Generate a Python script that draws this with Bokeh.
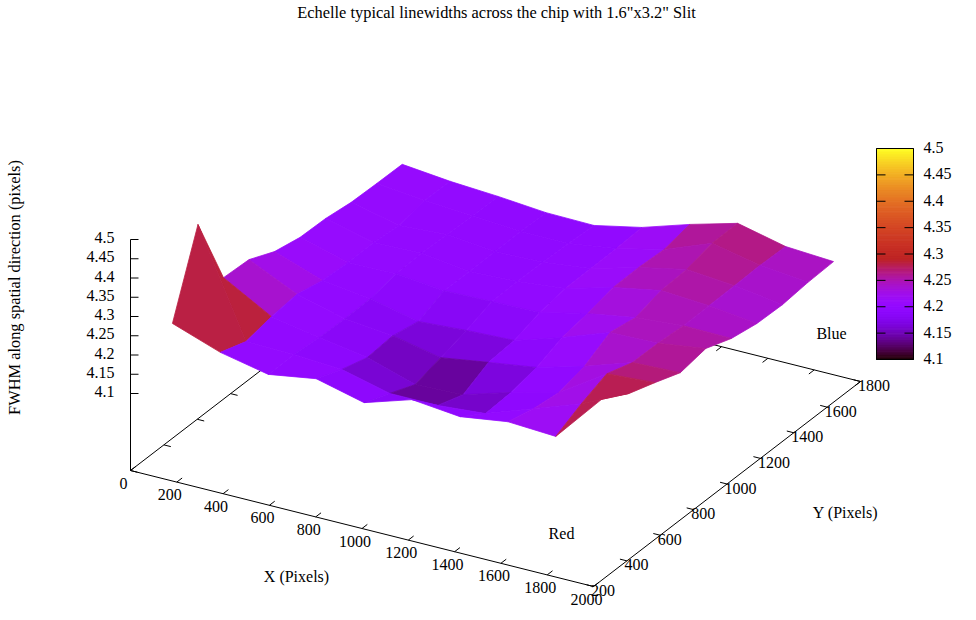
import math
import numpy as np
from bokeh.plotting import figure
from bokeh.models import Range1d
from bokeh.core.properties import value
from bokeh.embed import file_html
from bokeh.resources import INLINE

TITLE = 'Echelle typical linewidths across the chip with 1.6"x3.2" Slit'
X_LABEL = "X (Pixels)"
Y_LABEL = "Y (Pixels)"
Z_LABEL = "FWHM along spatial direction (pixels)"
x_ticks = [0, 200, 400, 600, 800, 1000, 1200, 1400, 1600, 1800, 2000]
y_ticks = [200, 400, 600, 800, 1000, 1200, 1400, 1600, 1800]
z_ticks = [4.1, 4.15, 4.2, 4.25, 4.3, 4.35, 4.4, 4.45, 4.5]
z_tick_text = ["4.1", "4.15", "4.2", "4.25", "4.3", "4.35", "4.4", "4.45", "4.5"]

# sampled positions on the chip
x_nodes = [99, 306, 513, 720, 927, 1134, 1341, 1548, 1755, 1962]
y_nodes = [314, 467, 620, 773, 926, 1079, 1232, 1385, 1538, 1691]

# FWHM: one list per x node, one value per y node
z_x0 = [4.259, 4.465, 4.276, 4.272, 4.242, 4.228, 4.226, 4.217, 4.215, 4.214]
z_x1 = [4.215, 4.192, 4.206, 4.213, 4.198, 4.194, 4.195, 4.188, 4.202, 4.201]
z_x2 = [4.189, 4.190, 4.183, 4.181, 4.182, 4.196, 4.198, 4.196, 4.194, 4.193]
z_x3 = [4.209, 4.182, 4.162, 4.168, 4.154, 4.183, 4.182, 4.183, 4.184, 4.182]
z_x4 = [4.178, 4.151, 4.123, 4.142, 4.162, 4.186, 4.187, 4.186, 4.184, 4.180]
z_x5 = [4.217, 4.151, 4.128, 4.161, 4.167, 4.189, 4.200, 4.201, 4.202, 4.206]
z_x6 = [4.204, 4.161, 4.165, 4.179, 4.206, 4.217, 4.234, 4.235, 4.231, 4.245]
z_x7 = [4.222, 4.205, 4.196, 4.213, 4.250, 4.238, 4.257, 4.261, 4.278, 4.279]
z_x8 = [4.215, 4.249, 4.276, 4.254, 4.253, 4.248, 4.249, 4.250, 4.252, 4.250]
z_x9 = [4.347, 4.307, 4.284, 4.259, 4.271, 4.246, 4.234, 4.232, 4.239, 4.242]
z_grid = [z_x0, z_x1, z_x2, z_x3, z_x4, z_x5, z_x6, z_x7, z_x8, z_x9]

XMIN, XMAX, YMIN, YMAX, ZBASE, CBMIN, CBMAX = 0, 2000, 200, 1800, 3.9, 4.1, 4.5

# shade response of the surface: the reference's mid purples sit close together
shade_in = [4.10, 4.13, 4.15, 4.17, 4.185, 4.21, 4.23, 4.25, 4.50]
shade_out = [4.10, 4.132, 4.157, 4.182, 4.197, 4.206, 4.225, 4.25, 4.50]


def proj(x, y, z=ZBASE):
    u = (x - XMIN) / (XMAX - XMIN)
    v = (y - YMIN) / (YMAX - YMIN)
    return 130 + 463 * u + 267 * v, 470 + 116 * u - 205 * v - 385 * (z - ZBASE)


def palette(z):
    g = min(1.0, max(0.0, (z - CBMIN) / (CBMAX - CBMIN)))
    r = g ** 0.40
    gg = g ** 3 + 0.03 * math.sin(math.pi * g)
    b = math.sin(2 * math.pi * g)
    if g > 0.45:
        b = max(0.14, b)
    return "#%02x%02x%02x" % (round(min(r, 1) * 255), round(min(gg, 1) * 255), round(max(b, 0) * 255))


p = figure(width=960, height=612, output_backend="svg", toolbar_location=None,
           x_range=Range1d(0, 960), y_range=Range1d(612, 0),
           x_axis_location=None, y_axis_location=None, min_border=0)
p.grid.visible = False
p.outline_line_color = None
p.background_fill_color = "white"

# base box and ticks (behind the surface)
corners = [(XMIN, YMIN), (XMAX, YMIN), (XMAX, YMAX), (XMIN, YMAX), (XMIN, YMIN)]
bx = [proj(*c)[0] for c in corners]
by = [proj(*c)[1] for c in corners]
p.line(bx, by, line_color="black", line_width=1)

seg_x, seg_y = [], []


def seg(a, b):
    seg_x.append([a[0], b[0]])
    seg_y.append([a[1], b[1]])


for xt in x_ticks:
    seg(proj(xt, YMIN), proj(xt, YMIN + 32))
    seg(proj(xt, YMAX), proj(xt, YMAX - 32))
for yt in y_ticks:
    seg(proj(XMAX, yt), proj(XMAX - 30, yt))
    seg(proj(XMIN, yt), proj(XMIN + 30, yt))
for zt in z_ticks:
    a = proj(XMIN, YMIN, zt)
    seg(a, (a[0] + 8, a[1]))
seg(proj(XMIN, YMIN), proj(XMIN, YMIN, CBMAX))
p.multi_line(seg_x, seg_y, line_color="black", line_width=1)

# surface
cells = []
for i in range(len(x_nodes) - 1):
    for j in range(len(y_nodes) - 1):
        idx = [(i, j), (i + 1, j), (i + 1, j + 1), (i, j + 1)]
        pts = [proj(x_nodes[a], y_nodes[b], z_grid[a][b]) for a, b in idx]
        mean = sum(z_grid[a][b] for a, b in idx) / 4
        depth = proj(x_nodes[i], y_nodes[j])[1]
        col = palette(float(np.interp(mean, shade_in, shade_out)))
        cells.append((depth, [q[0] for q in pts], [q[1] for q in pts], col))
cells.sort(key=lambda c: c[0])
p.patches([c[1] for c in cells], [c[2] for c in cells],
          fill_color=[c[3] for c in cells], line_color=[c[3] for c in cells], line_width=0.8)

# colour box
CB_L, CB_R, CB_T, CB_B = 876, 913, 148, 359
levels = 128
bar_colors = [palette(CBMIN + (CBMAX - CBMIN) * (k + 0.5) / levels) for k in range(levels)]
p.quad(left=[CB_L] * levels, right=[CB_R] * levels,
       top=[CB_B - (CB_B - CB_T) * (k + 1) / levels for k in range(levels)],
       bottom=[CB_B - (CB_B - CB_T) * k / levels for k in range(levels)],
       fill_color=bar_colors, line_color=bar_colors, line_width=1)
p.line([CB_L, CB_R, CB_R, CB_L, CB_L], [CB_T, CB_T, CB_B, CB_B, CB_T], line_color="black", line_width=1)
cb_y = [CB_B - (CB_B - CB_T) * (z - CBMIN) / (CBMAX - CBMIN) for z in z_ticks]
p.multi_line([[CB_L, CB_L + 9] for _ in cb_y] + [[CB_R - 9, CB_R] for _ in cb_y],
             [[y, y] for y in cb_y] * 2, line_color="black", line_width=1)

FONT = value("Liberation Serif")


def label(xs, ys, texts, align="center", angle=0.0, size="16px"):
    p.text(xs, ys, text=texts, text_font=FONT, text_font_size=size, text_color="black",
           text_align=align, text_baseline="middle", angle=angle)


label([496], [12], [TITLE], size="16.4px")
label([14], [287], [Z_LABEL], angle=math.pi / 2, size="16.4px")
label([296], [576], [X_LABEL])
label([845], [512], [Y_LABEL])
label([561], [533], ["Red"])
label([831], [332.5], ["Blue"])
label([proj(x, YMIN)[0] - 7 for x in x_ticks], [proj(x, YMIN)[1] + 12.5 for x in x_ticks],
      [str(x) for x in x_ticks])
label([proj(XMAX, y)[0] - 2.5 for y in y_ticks], [proj(XMAX, y)[1] + 4 for y in y_ticks],
      [str(y) for y in y_ticks], align="left")
label([114] * len(z_ticks), [proj(XMIN, YMIN, z)[1] - 2 for z in z_ticks], z_tick_text, align="right")
label([923] * len(z_ticks), [y - 1 for y in cb_y], z_tick_text, align="left")

open("out.html", "w").write(file_html(p, INLINE))
